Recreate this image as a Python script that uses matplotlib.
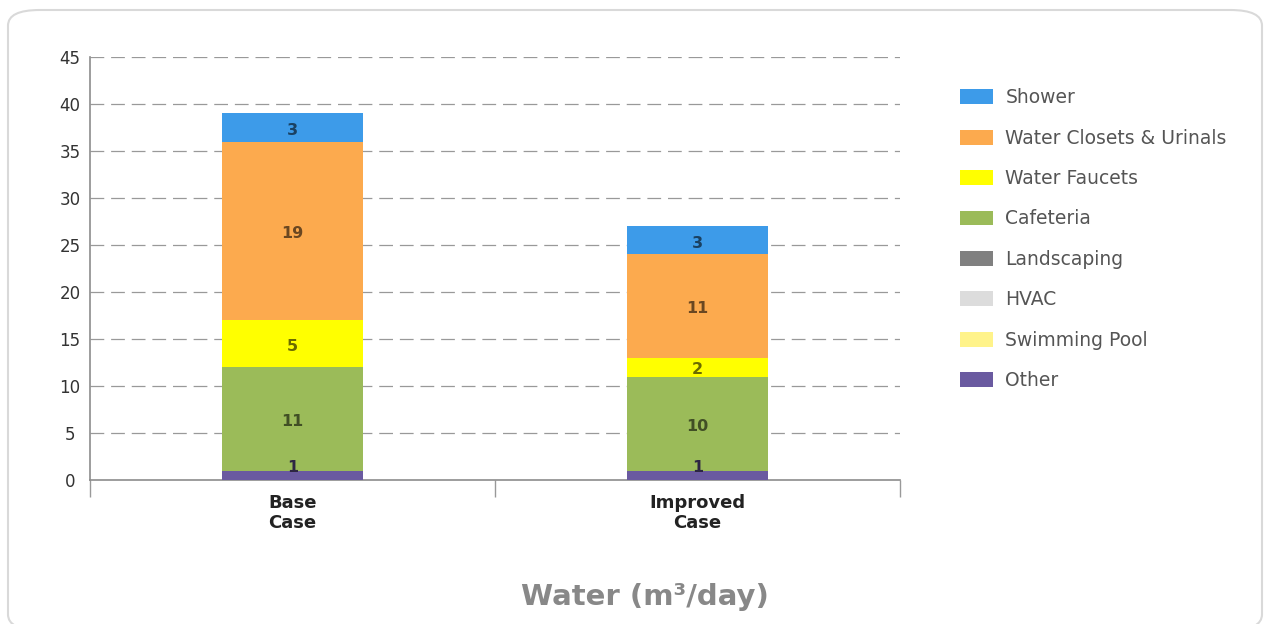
import matplotlib
matplotlib.use("Agg")
import matplotlib.pyplot as plt
from matplotlib.patches import FancyBboxPatch, Patch
from matplotlib.colors import to_rgb

plt.rcParams['font.family'] = ['DejaVu Sans']

cases = ["Base\nCase", "Improved\nCase"]
series = ["Other", "Swimming Pool", "HVAC", "Landscaping",
          "Cafeteria", "Water Faucets", "Water Closets & Urinals", "Shower"]
other = [1, 1]
swimming_pool = [0, 0]
hvac = [0, 0]
landscaping = [0, 0]
cafeteria = [11, 10]
water_faucets = [5, 2]
water_closets = [19, 11]
shower = [3, 3]
values = [other, swimming_pool, hvac, landscaping,
          cafeteria, water_faucets, water_closets, shower]
colors = ["#6a5aa0", "#fff38a", "#dcdcdc", "#808080",
          "#9bbb59", "#ffff00", "#fcaa4e", "#3d9be9"]
yticks = list(range(0, 50, 5))


def darker(c, f=0.42):
    r, g, b = to_rgb(c)
    return (r * f, g * f, b * f)


fig = plt.figure(figsize=(12.68, 6.24), dpi=100)
fig.patch.set_facecolor("white")

# rounded outer panel
frame = FancyBboxPatch((8 / 1268, 1 - 630 / 624), (1262 - 8) / 1268, (630 - 10) / 624,
                       boxstyle="round,pad=0,rounding_size=0.025",
                       transform=fig.transFigure, facecolor="white",
                       edgecolor="#d9d9d9", linewidth=1.5, zorder=-10)
fig.patches.append(frame)

ax = fig.add_axes([90 / 1268, 144 / 624, 810 / 1268, 423 / 624])
ax.set_facecolor("none")

x = list(range(len(cases)))
bottom = [0.0] * len(cases)
for name, vals, col in zip(series, values, colors):
    ax.bar(x, vals, width=0.346, bottom=bottom, color=col, zorder=3, linewidth=0)
    for i, v in enumerate(vals):
        if v > 0:
            yc = bottom[i] + v / 2
            off = 5.5 if v <= 1 else -2
            ax.annotate(str(v), (x[i], yc), xytext=(0, off), textcoords="offset points",
                        ha="center", va="center", fontsize=11.5, fontweight="bold",
                        color=darker(col), zorder=4)
    bottom = [b + v for b, v in zip(bottom, vals)]

ax.set_xlim(-0.5, 1.5)
ax.set_ylim(0, 45)
ax.set_yticks(yticks)
ax.set_yticklabels([str(t) for t in yticks], fontsize=12, color="#333333")
ax.tick_params(axis="y", length=0, pad=14.4)
for lbl in ax.get_yticklabels():
    lbl.set_horizontalalignment("center")

ax.set_xticks(x)
ax.set_xticklabels(cases, fontsize=13, fontweight="bold", color="#222222", linespacing=1.15)
ax.set_xticks([-0.5, 0.5, 1.5], minor=True)
ax.tick_params(axis="x", which="major", length=0, pad=10)
ax.tick_params(axis="x", which="minor", length=12, color="#999999", width=1)

for t in yticks[1:]:
    ax.axhline(t, color="#999999", linewidth=0.9, linestyle=(0, (11, 5.5)), zorder=1)

for s in ["top", "right"]:
    ax.spines[s].set_visible(False)
for s in ["left", "bottom"]:
    ax.spines[s].set_color("#8c8c8c")
    ax.spines[s].set_linewidth(1.2)

handles = [Patch(facecolor=c, edgecolor="none", label=n)
           for n, c in zip(series, colors)][::-1]
fig.legend(handles=handles, loc="upper left", bbox_to_anchor=(943.5 / 1268, 1 - 71.5 / 624),
           frameon=False, fontsize=13.5, labelcolor="#555555",
           handlelength=1.76, handleheight=0.85, handletextpad=0.64, labelspacing=1.14)

fig.text(645 / 1268, 1 - 597 / 624, "Water (m\u00b3/day)", ha="center", va="center",
         fontsize=21, fontweight="bold", color="#888888")

fig.savefig("out.png", dpi=100, facecolor="white")
